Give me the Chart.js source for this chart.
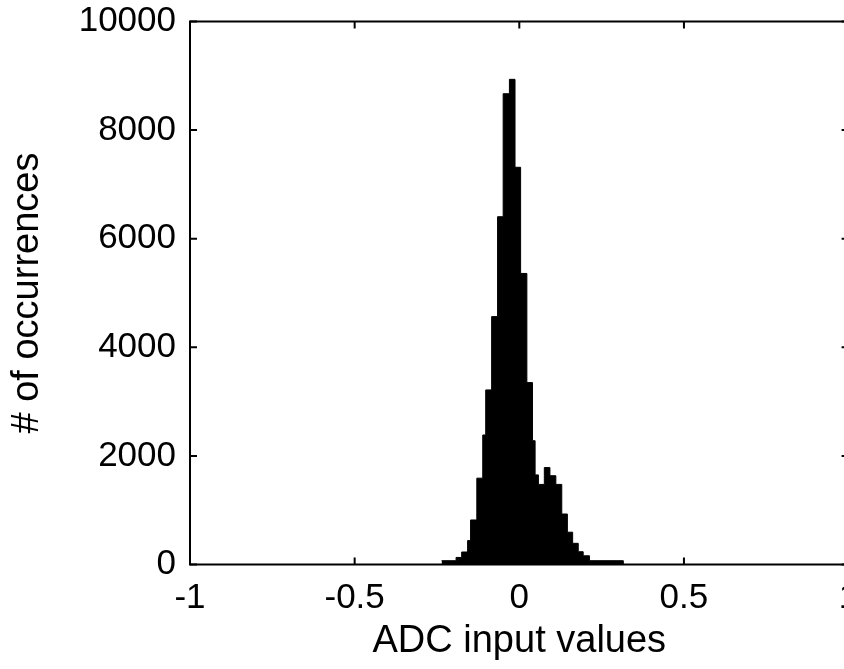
<!DOCTYPE html>
<html lang="en">
<head>
  <meta charset="UTF-8" />
  <title>ADC input histogram</title>
  <script src="https://cdn.jsdelivr.net/npm/chart.js"></script>
  <style>
    body {
      margin: 0;
      background: #fff;
      overflow: hidden;
    }
    canvas {
      display: block;
    }
  </style>
</head>
<body>

<canvas id="histChart" width="870" height="669"></canvas>

<script>
  // histogram bin edges (ADC input value) and counts per bin
  const binEdges = [
    -0.236, -0.192, -0.175, -0.157, -0.148, -0.129, -0.111, -0.102, -0.084, -0.066,
    -0.049, -0.030, -0.013, 0.004, 0.023, 0.040, 0.048, 0.058, 0.076, 0.093,
    0.111, 0.129, 0.146, 0.162, 0.179, 0.194, 0.213, 0.316
  ];
  const binCounts = [
    70, 130, 230, 440, 820, 1590, 2385, 3215, 4565, 6405,
    8670, 8935, 7315, 5360, 3350, 2280, 1650, 1475, 1785, 1635,
    1475, 930, 595, 390, 235, 160, 70
  ];

  const xTicks = [-1, -0.5, 0, 0.5, 1];
  const xTickLabels = ['-1', '-0.5', '0', '0.5', '1'];
  const yTicks = [0, 2000, 4000, 6000, 8000, 10000];

  const FONT = "'Liberation Sans', Arial, sans-serif";
  const TICK_LEN = 7;

  // step points on the left edge of each bin, closed with a zero at the last edge
  const stepData = binEdges.map((e, i) => ({ x: e, y: i < binCounts.length ? binCounts[i] : 0 }));

  // matlab style box with inward ticks on all four sides
  const boxPlugin = {
    id: 'matlabBox',
    afterDatasetsDraw(chart) {
      const { ctx, chartArea: a, scales: { x, y } } = chart;
      ctx.save();
      ctx.strokeStyle = '#000';
      ctx.lineWidth = 2;
      ctx.strokeRect(a.left, a.top, a.right - a.left, a.bottom - a.top);
      ctx.beginPath();
      x.ticks.forEach(t => {
        const px = x.getPixelForValue(t.value);
        ctx.moveTo(px, a.bottom); ctx.lineTo(px, a.bottom - TICK_LEN);
        ctx.moveTo(px, a.top); ctx.lineTo(px, a.top + TICK_LEN);
      });
      y.ticks.forEach(t => {
        const py = y.getPixelForValue(t.value);
        ctx.moveTo(a.left, py); ctx.lineTo(a.left + TICK_LEN, py);
        ctx.moveTo(a.right, py); ctx.lineTo(a.right - TICK_LEN, py);
      });
      ctx.stroke();
      ctx.restore();
    }
  };

  new Chart(document.getElementById('histChart'), {
    type: 'line',
    data: {
      datasets: [{
        data: stepData,
        stepped: 'before',
        fill: 'origin',
        backgroundColor: '#000',
        borderColor: '#000',
        borderWidth: 1,
        pointRadius: 0
      }]
    },
    options: {
      responsive: false,
      devicePixelRatio: 1,
      animation: false,
      layout: { padding: { top: 21.5, right: 21.4, left: 0, bottom: 0 } },
      plugins: {
        legend: { display: false },
        tooltip: { enabled: false }
      },
      scales: {
        x: {
          type: 'linear',
          min: -1,
          max: 1,
          afterBuildTicks: s => { s.ticks = xTicks.map(v => ({ value: v })); },
          afterFit: s => { s.height = 104.5; s.paddingLeft = 0; s.paddingRight = 0; },
          grid: { display: false, drawTicks: false },
          border: { display: false },
          ticks: {
            padding: 13,
            color: '#000',
            font: { family: FONT, size: 35 },
            callback: (v) => xTickLabels[xTicks.indexOf(v)]
          },
          title: {
            display: true,
            text: 'ADC input values',
            color: '#000',
            font: { family: FONT, size: 38 },
            padding: { top: 0, bottom: 5 }
          }
        },
        y: {
          min: 0,
          max: 10000,
          afterBuildTicks: s => { s.ticks = yTicks.map(v => ({ value: v })); },
          afterFit: s => { s.width = 190; s.paddingTop = 0; s.paddingBottom = 0; },
          grid: { display: false, drawTicks: false },
          border: { display: false },
          ticks: {
            padding: 14,
            color: '#000',
            font: { family: FONT, size: 35 },
            callback: (v) => String(v)
          },
          title: {
            display: true,
            text: '# of occurrences',
            color: '#000',
            font: { family: FONT, size: 38 },
            padding: { top: 5, bottom: 0 }
          }
        }
      }
    },
    plugins: [boxPlugin]
  });
</script>
</body>
</html>
